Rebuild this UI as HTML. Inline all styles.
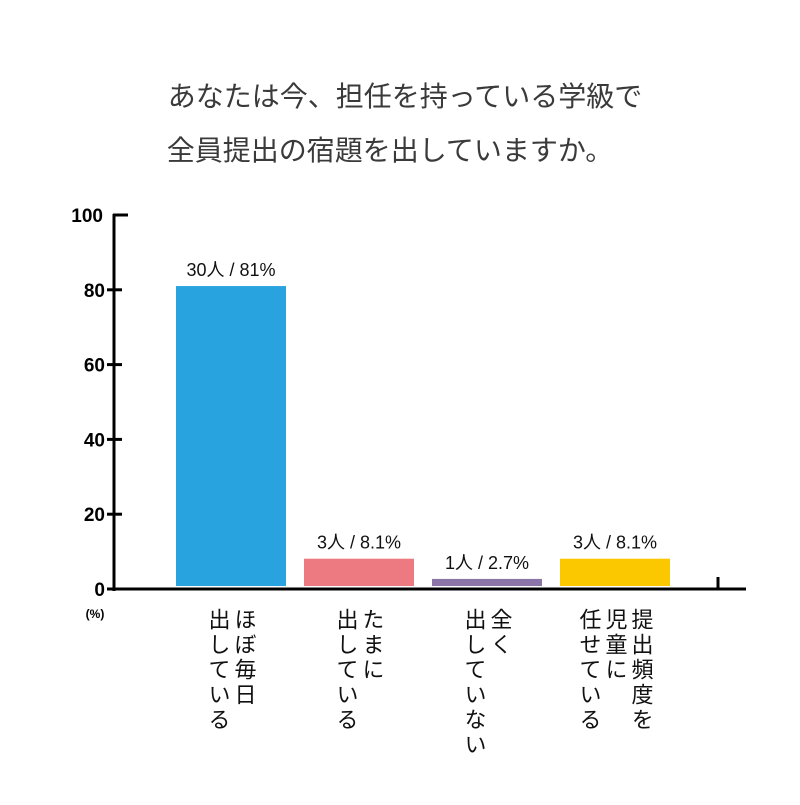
<!DOCTYPE html>
<html><head><meta charset="utf-8"><style>
body{margin:0;background:#fff;}
svg text{font-family:"Liberation Sans","Noto Sans CJK JP",sans-serif;}
</style></head><body>
<svg width="800" height="800" viewBox="0 0 800 800">
<text x="405" y="106" text-anchor="middle" font-size="28" fill="#3a3a3a">あなたは今、担任を持っている学級で</text>
<text x="390" y="160" text-anchor="middle" font-size="28" fill="#3a3a3a">全員提出の宿題を出していますか。</text>
<g id="axes"></g>
<g id="bars"></g>
</svg>
<script>
const categories=[["ほぼ毎日","出している"],["たまに","出している"],["全く","出していない"],["提出頻度を","児童に","任せている"]];
const values=[81,8.1,2.7,8.1];
const valueLabels=["30人 / 81%","3人 / 8.1%","1人 / 2.7%","3人 / 8.1%"];
const colors=["#29a3df","#ec7a80","#8a74a8","#fbc800"];
const yTicks=[0,20,40,60,80,100];
const NS="http://www.w3.org/2000/svg";
const x0=114,y0=589,yTop=215;
const y=v=>y0-(y0-yTop)*v/100;
const xBar=i=>176+i*128;
function mk(tag,attrs,parent,txt){const e=document.createElementNS(NS,tag);for(const k in attrs)e.setAttribute(k,attrs[k]);if(txt!==undefined)e.textContent=txt;parent.appendChild(e);return e;}
const axes=document.getElementById('axes'),bars=document.getElementById('bars');
let yl=mk('line',{x1:x0,y1:yTop-1,x2:x0,y2:y0+2,stroke:'#000','stroke-width':3},axes);


let xl=mk('line',{x1:x0,y1:y0,x2:746,y2:y0,stroke:'#000','stroke-width':3},axes);


let et=mk('line',{x1:718,y1:577,x2:718,y2:589,stroke:'#000','stroke-width':3},axes);


yTicks.forEach(t=>{
 const yy=y(t);
 const tk=mk('line',{x1:t===100?x0-1:107,y1:yy,x2:t===100?128:122,y2:yy,stroke:'#000','stroke-width':3},axes);
 
 
 const lb=mk('text',{x:t===100?103:105,y:yy+7,'text-anchor':'end','font-size':19,'font-weight':'bold',fill:'#000'},axes,String(t));
 
 
});
const pu=mk('text',{x:95,y:618,'text-anchor':'middle','font-size':12,'font-weight':'bold'},axes,'(%)');


values.forEach((v,i)=>{
 const bx=xBar(i);
 const r=mk('rect',{x:bx,y:y(v),width:110,height:y0-3-y(v),fill:colors[i]},bars);
 
 
 const vl=mk('text',{x:bx+55,y:y(v)-10,'text-anchor':'middle','font-size':18,fill:'#111'},bars,valueLabels[i]);
 
 
 const lines=categories[i];
 const cx=bx+55;
 lines.forEach((ln,j)=>{
  const lx=cx+(lines.length-1)*13-j*26;
  const ct=mk('text',{x:lx,y:608,'font-size':22,fill:'#111','writing-mode':'vertical-rl','text-orientation':'upright','letter-spacing':'3'},bars,ln);
  
  
 });
});
</script>
</body></html>
